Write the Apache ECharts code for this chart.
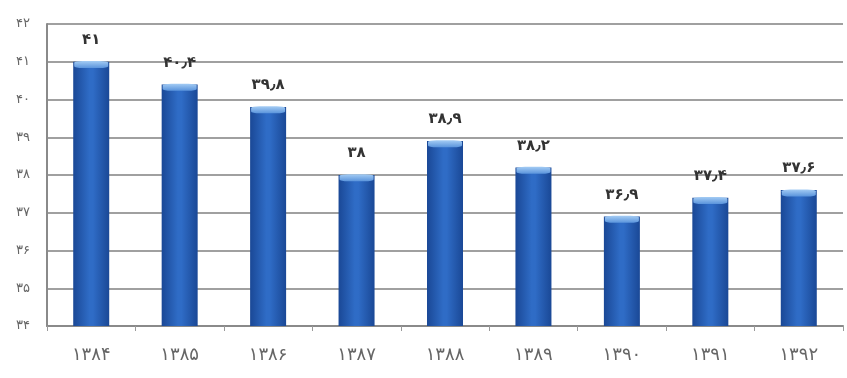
<!DOCTYPE html>
<html>
<head>
<meta charset="utf-8">
<script src="https://cdn.jsdelivr.net/npm/echarts@6/dist/echarts.min.js"></script>
<style>
  html, body { margin: 0; padding: 0; background: #fff; }
  #main { width: 847px; height: 378px; }
</style>
</head>
<body>
<div id="main"></div>
<script>
// سال‌ها و مقادیر
var years = [1384, 1385, 1386, 1387, 1388, 1389, 1390, 1391, 1392];
var values = [41, 40.4, 39.8, 38, 38.9, 38.2, 36.9, 37.4, 37.6];
var yMin = 34, yMax = 42, yStep = 1;

// تبدیل عدد به ارقام فارسی
function toFa(n) {
    var digits = '۰۱۲۳۴۵۶۷۸۹';
    return String(n).replace(/[0-9]/g, function (d) { return digits[+d]; }).replace('.', '٫');
}

var myChart = echarts.init(document.getElementById('main'));
var font = 'DejaVu Sans';

var option = {
    backgroundColor: '#fff',
    animation: false,
    grid: { left: 47, right: 4, top: 24, bottom: 52 },
    xAxis: {
        type: 'category',
        data: years,
        axisLine: { lineStyle: { color: '#8a8a8a', width: 2 } },
        axisTick: { show: true, length: 5, lineStyle: { color: '#9a9a9a' } },
        axisLabel: {
            margin: 20,
            fontFamily: font,
            fontSize: 18,
            color: '#666',
            formatter: function (v) { return toFa(v); }
        }
    },
    yAxis: {
        type: 'value',
        min: yMin,
        max: yMax,
        interval: yStep,
        axisLine: { show: true, lineStyle: { color: '#8a8a8a', width: 2 } },
        axisTick: { show: false },
        splitLine: { lineStyle: { color: '#a0a0a0', width: 2 } },
        axisLabel: {
            margin: 17,
            fontFamily: font,
            fontSize: 13,
            color: '#666',
            formatter: function (v) { return toFa(v); }
        }
    },
    series: [
        {
            type: 'bar',
            data: values,
            barWidth: 36,
            itemStyle: {
                color: new echarts.graphic.LinearGradient(0, 0, 1, 0, [
                    { offset: 0, color: '#1a4896' },
                    { offset: 0.45, color: '#2f6cc6' },
                    { offset: 0.55, color: '#2f6cc6' },
                    { offset: 1, color: '#1a4896' }
                ])
            },
            label: {
                show: true,
                position: 'top',
                distance: 14,
                fontFamily: font,
                fontSize: 15,
                fontWeight: 'bold',
                color: '#333',
                formatter: function (p) { return toFa(p.value); }
            }
        },
        {
            // درپوش روشن بالای ستون‌ها
            type: 'pictorialBar',
            data: values,
            symbol: 'roundRect',
            symbolSize: [34, 7],
            symbolPosition: 'end',
            symbolOffset: [0, '-10%'],
            z: 3,
            itemStyle: {
                color: new echarts.graphic.LinearGradient(0, 0, 0, 1, [
                    { offset: 0, color: '#a4ccf4' },
                    { offset: 1, color: '#5a94dc' }
                ])
            }
        }
    ]
};

myChart.setOption(option);
window.onresize = myChart.resize;
</script>
</body>
</html>
